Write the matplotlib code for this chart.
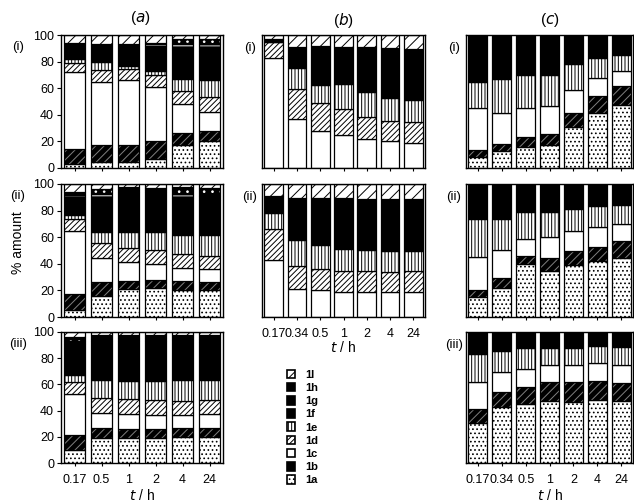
import matplotlib
matplotlib.use("Agg")
import matplotlib.pyplot as plt
from matplotlib.patches import Patch

plt.rcParams['font.family'] = ['Liberation Sans', 'DejaVu Sans']
plt.rcParams['hatch.linewidth'] = 0.7

# time points (h)
times_a = ['0.17', '0.5', '1', '2', '4', '24']
times_bc = ['0.17', '0.34', '0.5', '1', '2', '4', '24']

# components, bottom to top
keys_a = ['1a', '1b', '1c', '1d', '1e', '1f', '1g', '1h', '1l']
keys_b = ['1c', '1d', '1e', '1f', '1l']
keys_c = ['1a', '1b', '1c', '1e', '1f']

# % amount, one row per component (same order as keys)
a_i = [
    [3, 4.5, 4.5, 7, 17, 20],
    [11, 12.5, 12.5, 13, 9, 7.5],
    [58, 47.5, 49, 41, 22, 14.5],
    [7, 9, 8.5, 9, 10, 11.5],
    [3, 6.5, 2.5, 3, 9, 12.5],
    [12, 13.5, 16.5, 19, 22, 22],
    [0, 0, 0, 1, 5, 5],
    [0, 0, 0, 1, 3, 4],
    [6, 6.5, 6.5, 6, 3, 3],
]
a_ii = [
    [5.5, 16, 21, 21.5, 20.5, 20],
    [12, 10, 6, 6.5, 6.5, 6],
    [47.5, 18.5, 14, 11.5, 10, 10],
    [9, 11.5, 11, 11, 10, 10],
    [3, 8, 12, 13.5, 15, 16],
    [13, 26, 30, 30, 27.5, 26],
    [2, 3, 2, 1.5, 3, 3],
    [2, 3, 1.5, 1.5, 5, 6],
    [6, 4, 2.5, 3, 2.5, 3],
]
a_iii = [
    [10, 19, 19, 19, 19.5, 20],
    [11, 7.5, 7, 7, 7, 6.5],
    [32, 11.5, 11.5, 11, 10.5, 11],
    [9, 12, 11, 11, 10.5, 10.5],
    [5, 13, 14, 14.5, 15.5, 15.5],
    [24, 30, 31, 31, 31, 29],
    [2, 2, 2, 2, 2, 2],
    [3, 2.5, 2, 2, 1.5, 3],
    [4, 2.5, 2.5, 2.5, 2.5, 2.5],
]
b_i = [
    [83, 37, 27.5, 25, 21.5, 20, 19],
    [11.5, 22.5, 21.5, 19, 17, 15, 15.5],
    [0, 16, 13.5, 19, 18.5, 17.5, 16.5],
    [2.5, 15.5, 29.5, 28, 34, 37.5, 38.5],
    [3, 9, 8, 9, 9, 10, 10.5],
]
b_ii = [
    [42.5, 21, 20, 18.5, 18.5, 18.5, 18.5],
    [23.5, 17.5, 16, 16, 16, 15.5, 16],
    [12, 19.5, 18, 17, 15.5, 15.5, 15],
    [13, 31.5, 35.5, 38, 39, 39, 39],
    [9, 10.5, 10.5, 10.5, 11, 11.5, 11.5],
]
c_i = [
    [8.5, 12.5, 15.5, 17.5, 30.5, 41, 47],
    [5, 5.5, 7.5, 8, 11, 13.5, 14.5],
    [31.5, 23.5, 22, 21, 17, 13.5, 11.5],
    [19.5, 25.5, 25, 23.5, 20, 15, 12],
    [35.5, 33, 30, 30, 21.5, 17, 15],
]
c_ii = [
    [15, 22, 40, 34.5, 39, 42, 44],
    [5, 7, 5.5, 9.5, 10.5, 11, 13],
    [25, 21.5, 13.5, 16, 15, 14.5, 13],
    [28.5, 23, 20, 19, 17, 16, 14.5],
    [26.5, 26.5, 21, 21, 18.5, 16.5, 15.5],
]
c_iii = [
    [30.5, 42.5, 45, 47.5, 46.5, 48, 47],
    [11, 12, 13, 14, 15, 14.5, 14],
    [20.5, 15, 13.5, 13.5, 13.5, 14, 14],
    [21, 16, 16, 12.5, 12.5, 12.5, 13.5],
    [17, 14.5, 12.5, 12.5, 12.5, 11, 11.5],
]

# fill / hatch look of each component
styles = {
    '1a': dict(fc='white', hatch='....', hc='black'),
    '1b': dict(fc='black', hatch='////', hc='0.5'),
    '1c': dict(fc='white', hatch=None, hc='black'),
    '1d': dict(fc='white', hatch='//////', hc='black'),
    '1e': dict(fc='white', hatch='|||||', hc='black'),
    '1f': dict(fc='black', hatch=None, hc='black'),
    '1g': dict(fc='black', hatch='--', hc='white'),
    '1h': dict(fc='black', hatch='..', hc='white'),
    '1l': dict(fc='white', hatch='///', hc='black'),
}

W, H = 634, 501
fig = plt.figure(figsize=(W / 100, H / 100), dpi=100)


def px_axes(left, top, right, bottom):
    return fig.add_axes([left / W, 1 - bottom / H, (right - left) / W, (bottom - top) / H])


def ftext(x, y, s, **kw):
    fig.text(x / W, 1 - y / H, s, ha='center', va='center', **kw)


def stack(ax, keys, values, ticklabels, show_x=False, show_y=False):
    n = len(values[0])
    x = list(range(n))
    bottom = [0] * n
    for k, vals in zip(keys, values):
        st = styles[k]
        ax.bar(x, vals, 0.8, bottom=bottom, color=st['fc'], hatch=st['hatch'],
               edgecolor=st['hc'], linewidth=0)
        ax.bar(x, vals, 0.8, bottom=bottom, fill=False, edgecolor='black', linewidth=0.9)
        bottom = [b + v for b, v in zip(bottom, vals)]
    ax.set_xlim(-0.5, n - 0.5)
    ax.set_ylim(0, 100)
    ax.set_xticks(x)
    if show_x:
        ax.set_xticklabels(ticklabels, fontsize=9)
        ax.tick_params(axis='x', length=2, pad=6)
    else:
        ax.set_xticklabels([])
        ax.tick_params(axis='x', length=2)
    if show_y:
        ax.set_yticks(range(0, 101, 20))
        ax.tick_params(axis='y', length=3, labelsize=9, pad=2)
    else:
        ax.set_yticks([])
    for sp in ax.spines.values():
        sp.set_linewidth(1.0)


rows = [(35, 168), (184, 317), (332, 463)]

# panel (a)
for (top, bot), vals, lab, last in zip(rows, [a_i, a_ii, a_iii], ['(i)', '(ii)', '(iii)'],
                                       [False, False, True]):
    ax = px_axes(61, top, 223, bot)
    stack(ax, keys_a, vals, times_a, show_x=last, show_y=True)
    ftext(18, top + 12, lab, fontsize=9.5)

# panel (b)
for (top, bot), vals, lab, last in zip(rows[:2], [b_i, b_ii], ['(i)', '(ii)'], [False, True]):
    ax = px_axes(262, top, 425, bot)
    stack(ax, keys_b, vals, times_bc, show_x=last)
    ftext(250, top + 13, lab, fontsize=9.5)

# panel (c)
for (top, bot), vals, lab, last in zip(rows, [c_i, c_ii, c_iii], ['(i)', '(ii)', '(iii)'],
                                       [False, False, True]):
    ax = px_axes(466, top, 633, bot)
    stack(ax, keys_c, vals, times_bc, show_x=last)
    ftext(454, top + 13, lab, fontsize=9.5)

# titles and axis labels
ftext(140, 18, '($a$)', fontsize=11)
ftext(343, 20, '($b$)', fontsize=11)
ftext(550, 20, '($c$)', fontsize=11)
ftext(18, 243, '% amount', fontsize=10, rotation=90)
ftext(142, 495, '$t$ / h', fontsize=10)
ftext(343, 348, '$t$ / h', fontsize=10)
ftext(550, 495, '$t$ / h', fontsize=10)

# legend, top entry first
leg_keys = ['1l', '1h', '1g', '1f', '1e', '1d', '1c', '1b', '1a']
handles = [Patch(facecolor=styles[k]['fc'], hatch=styles[k]['hatch'], edgecolor='black',
                 linewidth=1.2) for k in leg_keys]
fig.legend(handles, leg_keys, loc='upper left', bbox_to_anchor=(281 / W, 1 - 364 / H),
           frameon=False, handlelength=0.8, handleheight=0.8, handletextpad=0.9,
           labelspacing=0.28, borderpad=0, prop={'size': 8, 'weight': 'bold'})

fig.savefig('out.png', dpi=100)
